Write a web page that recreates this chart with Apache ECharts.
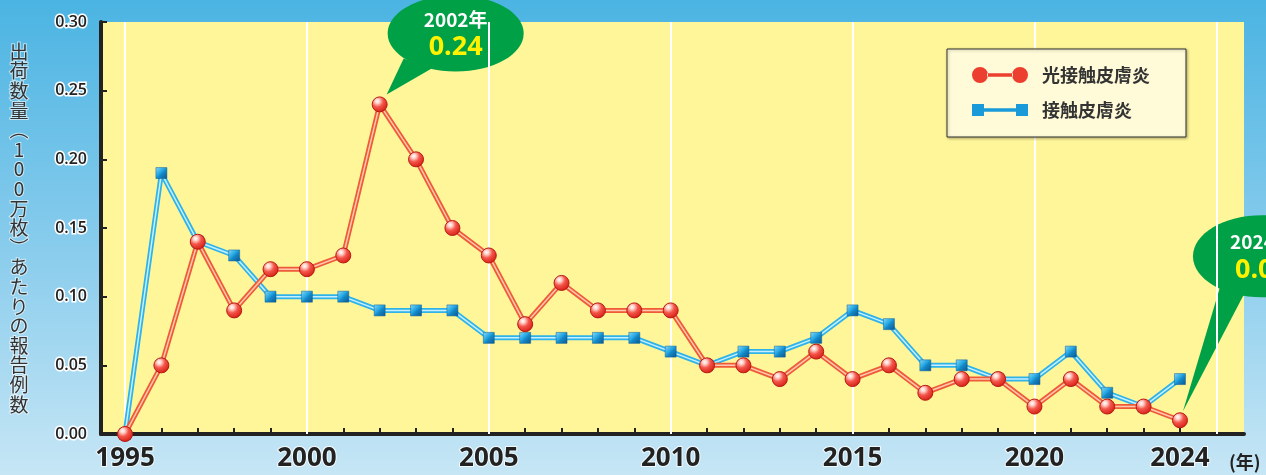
<!DOCTYPE html>
<html>
<head>
<meta charset="utf-8">
<script src="https://cdn.jsdelivr.net/npm/echarts@6/dist/echarts.min.js"></script>
<style>
html, body { margin: 0; padding: 0; }
#main { width: 1266px; height: 475px; }
</style>
</head>
<body>
<div id="main"></div>
<script>
// データ（年ごとの報告例数 / 出荷数量100万枚あたり）
var years = [1995, 1996, 1997, 1998, 1999, 2000, 2001, 2002, 2003, 2004,
             2005, 2006, 2007, 2008, 2009, 2010, 2011, 2012, 2013, 2014,
             2015, 2016, 2017, 2018, 2019, 2020, 2021, 2022, 2023, 2024];
var photoValues = [0, 0.05, 0.14, 0.09, 0.12, 0.12, 0.13, 0.24, 0.20, 0.15,
                   0.13, 0.08, 0.11, 0.09, 0.09, 0.09, 0.05, 0.05, 0.04, 0.06,
                   0.04, 0.05, 0.03, 0.04, 0.04, 0.02, 0.04, 0.02, 0.02, 0.01];
var contactValues = [0, 0.19, 0.14, 0.13, 0.10, 0.10, 0.10, 0.09, 0.09, 0.09,
                     0.07, 0.07, 0.07, 0.07, 0.07, 0.06, 0.05, 0.06, 0.06, 0.07,
                     0.09, 0.08, 0.05, 0.05, 0.04, 0.04, 0.06, 0.03, 0.02, 0.04];
var seriesNames = ['光接触皮膚炎', '接触皮膚炎'];
var tickYears = [1995, 1996, 1997, 1998, 1999, 2000, 2001, 2002, 2003, 2004,
                 2005, 2006, 2007, 2008, 2009, 2010, 2011, 2012, 2013, 2014,
                 2015, 2016, 2017, 2018, 2019, 2020, 2021, 2022, 2023, 2024, 2025];
var labelYears = [1995, 2000, 2005, 2010, 2015, 2020, 2024];
var gridYears = [1995, 2000, 2005, 2010, 2015, 2020, 2025];
var yAxisName = '出荷数量︵1 0 0万枚︶あたりの報告例数';
var callouts = [
    { year: 2002, value: 0.24, label: '2002年', text: '0.24' },
    { year: 2024, value: 0.01, label: '2024年', text: '0.01' }
];

function pairs(vals) {
    return years.map(function (y, i) { return [y, vals[i]]; });
}

var chart = echarts.init(document.getElementById('main'));

// 立体的なマーカー
var redBall = new echarts.graphic.RadialGradient(0.36, 0.3, 0.8, [
    { offset: 0, color: '#ffffff' },
    { offset: 0.18, color: '#ffd0c8' },
    { offset: 0.45, color: '#f4554a' },
    { offset: 0.8, color: '#dc2a20' },
    { offset: 1, color: '#b0160f' }
]);
var blueBox = new echarts.graphic.LinearGradient(0, 0, 1, 1, [
    { offset: 0, color: '#8adcf8' },
    { offset: 0.45, color: '#20a3e0' },
    { offset: 0.55, color: '#1689c8' },
    { offset: 1, color: '#0a568f' }
]);

var option = {
    animation: false,
    backgroundColor: {
        type: 'linear', x: 0, y: 0, x2: 0, y2: 1,
        colorStops: [
            { offset: 0, color: '#4bb4e2' },
            { offset: 0.5, color: '#86cbec' },
            { offset: 1, color: '#c6e6f5' }
        ]
    },
    grid: {
        left: 101, right: 22, top: 22, bottom: 41,
        show: true, backgroundColor: '#fff599', borderWidth: 0
    },
    legend: {
        left: 947, top: 49,
        orient: 'vertical',
        selectedMode: false,
        backgroundColor: '#fffbd8',
        borderColor: '#333',
        borderWidth: 1,
        shadowColor: 'rgba(0,0,0,0.3)',
        shadowBlur: 3,
        shadowOffsetX: 1,
        shadowOffsetY: 1,
        padding: [17, 36, 18, 25],
        itemGap: 17,
        itemWidth: 56,
        itemHeight: 16,
        textStyle: {
            fontFamily: 'Noto Sans CJK JP', fontSize: 18, fontWeight: 'bold', color: '#333',
            padding: [0, 0, 0, 9]
        },
        data: [
            {
                name: seriesNames[0],
                icon: 'path://M0 8a8 8 0 1 0 16 0a8 8 0 1 0-16 0zM15 6.3h26v3.4H15zM40 8a8 8 0 1 0 16 0a8 8 0 1 0-16 0z',
                itemStyle: { color: '#ec3f2f' }
            },
            {
                name: seriesNames[1],
                icon: 'path://M0 2h12v12H0zM12 6.3h32v3.4H12zM44 2h12v12H44z',
                itemStyle: { color: '#1a9ad8' }
            }
        ]
    },
    xAxis: {
        type: 'value',
        min: 1994.34,
        max: 2025.76,
        name: '(年)',
        nameLocation: 'end',
        nameGap: -15,
        nameTextStyle: {
            fontFamily: 'Noto Sans CJK JP', fontSize: 18, fontWeight: 'bold', color: '#222',
            align: 'left', verticalAlign: 'top', padding: [19, 0, 0, 0]
        },
        axisLine: { show: true, onZero: false, lineStyle: { color: '#222', width: 4 } },
        axisTick: {
            show: true, inside: true, length: 6, customValues: tickYears,
            lineStyle: { color: '#222', width: 2 }
        },
        axisLabel: {
            customValues: labelYears,
            margin: 12,
            formatter: function (v) { return String(v); },
            fontFamily: 'Open Sans', fontSize: 26, fontWeight: 'bold', color: '#222',
            textBorderColor: 'rgba(255,255,255,0.8)', textBorderWidth: 2
        },
        splitLine: { show: false }
    },
    yAxis: {
        type: 'value',
        min: 0,
        max: 0.3,
        interval: 0.05,
        name: yAxisName.split('').join('\n').replace(/ \n/g, ''),
        nameLocation: 'middle',
        nameRotate: 0,
        nameGap: 82,
        nameTextStyle: {
            fontFamily: 'Noto Sans CJK JP', fontSize: 19, lineHeight: 19.6, color: '#333',
            align: 'center', verticalAlign: 'middle',
            textBorderColor: 'rgba(255,255,255,0.6)', textBorderWidth: 2
        },
        axisLine: { show: true, lineStyle: { color: '#222', width: 4 } },
        axisTick: { show: true, inside: true, length: 6, lineStyle: { color: '#222', width: 2 } },
        axisLabel: {
            margin: 14,
            formatter: function (v) { return v.toFixed(2); },
            fontFamily: 'Open Sans', fontSize: 16, fontWeight: 600, color: '#222',
            textBorderColor: '#fff', textBorderWidth: 3
        },
        splitLine: { show: false }
    },
    series: [
        {
            // 縦の白いグリッド線
            name: 'grid', type: 'line', data: [], z: 1, silent: true,
            markLine: {
                z: 1, silent: true, symbol: 'none', animation: false,
                label: { show: false },
                lineStyle: { color: '#ffffff', width: 2, type: 'solid' },
                data: gridYears.map(function (y) { return { xAxis: y }; })
            }
        },
        {
            name: seriesNames[1], type: 'line', data: pairs(contactValues), z: 2,
            symbol: 'none', itemStyle: { color: '#1a9ad8' },
            lineStyle: { color: '#2fb3e8', width: 5 }
        },
        {
            name: 'c-inner', type: 'line', data: pairs(contactValues), z: 3,
            symbol: 'none', lineStyle: { color: '#c8f0ff', width: 1.5 }
        },
        {
            name: 'c-mark', type: 'line', data: pairs(contactValues), z: 4,
            symbol: 'rect', symbolSize: 11,
            itemStyle: { color: blueBox, borderColor: '#0a5d96', borderWidth: 0.5 },
            lineStyle: { width: 0, opacity: 0 }
        },
        {
            name: seriesNames[0], type: 'line', data: pairs(photoValues), z: 5,
            symbol: 'none', itemStyle: { color: '#ec3f2f' },
            lineStyle: { color: '#ef5a38', width: 5 }
        },
        {
            name: 'p-inner', type: 'line', data: pairs(photoValues), z: 6,
            symbol: 'none', lineStyle: { color: '#ffc9ad', width: 1.5 }
        },
        {
            name: 'p-mark', type: 'line', data: pairs(photoValues), z: 7,
            symbol: 'circle', symbolSize: 15,
            itemStyle: { color: redBall, borderColor: '#b81a14', borderWidth: 1 },
            lineStyle: { width: 0, opacity: 0 }
        }
    ]
};

chart.setOption(option);

// 吹き出し（データ点の位置から配置）
var bubbleShape = [
    { cx: 76, cy: -71, rx: 68, ry: 38, tip: [7, -10], b1: [24, -46], b2: [52, -36] },
    { cx: 82, cy: -164, rx: 69, ry: 41, tip: [3, -9], b1: [40, -133], b2: [64, -126] }
];
var graphics = callouts.map(function (c, i) {
    var p = chart.convertToPixel({ gridIndex: 0 }, [c.year, c.value]);
    var s = bubbleShape[i];
    return {
        type: 'group', x: p[0], y: p[1], z: 100,
        children: [
            { type: 'polygon', shape: { points: [s.tip, s.b1, s.b2] }, style: { fill: '#00a046' } },
            { type: 'ellipse', shape: { cx: s.cx, cy: s.cy, rx: s.rx, ry: s.ry }, style: { fill: '#00a046' } },
            {
                type: 'text', x: s.cx, y: s.cy - 14,
                style: {
                    text: c.label, fill: '#ffffff', align: 'center', verticalAlign: 'middle',
                    textAlign: 'center', textVerticalAlign: 'middle',
                    fontFamily: 'Noto Sans CJK JP', fontSize: 19, fontWeight: 'bold'
                }
            },
            {
                type: 'text', x: s.cx, y: s.cy + 14,
                style: {
                    text: c.text, fill: '#fff200', align: 'center', verticalAlign: 'middle',
                    textAlign: 'center', textVerticalAlign: 'middle',
                    fontFamily: 'Open Sans', fontSize: 27, fontWeight: 'bold'
                }
            }
        ]
    };
});
chart.setOption({ graphic: graphics });
</script>
</body>
</html>
